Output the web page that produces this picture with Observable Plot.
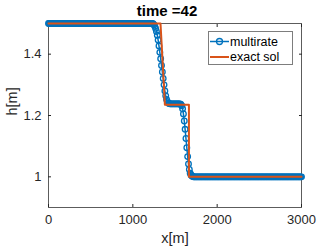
<!DOCTYPE html>
<html><head><meta charset="utf-8">
<script src="https://cdn.jsdelivr.net/npm/d3@7"></script>
<script src="https://cdn.jsdelivr.net/npm/@observablehq/plot@0.6"></script>
<style>body{margin:0;background:#fff;font-family:"Liberation Sans",Arial,sans-serif}</style>
</head><body><div id="chart"></div>
<script>
// multirate numerical solution (x in m, h in m), dx = 10 m
const xNum = [0,10,20,30,40,50,60,70,80,90,100,110,120,130,140,150,160,170,180,190,200,210,220,230,240,250,260,270,280,290,300,310,320,330,340,350,360,370,380,390,400,410,420,430,440,450,460,470,480,490,500,510,520,530,540,550,560,570,580,590,600,610,620,630,640,650,660,670,680,690,700,710,720,730,740,750,760,770,780,790,800,810,820,830,840,850,860,870,880,890,900,910,920,930,940,950,960,970,980,990,1000,1010,1020,1030,1040,1050,1060,1070,1080,1090,1100,1110,1120,1130,1140,1150,1160,1170,1180,1190,1200,1210,1220,1230,1240,1250,1260,1270,1280,1290,1300,1310,1320,1330,1340,1350,1360,1370,1380,1390,1400,1410,1420,1430,1440,1450,1460,1470,1480,1490,1500,1510,1520,1530,1540,1550,1560,1570,1580,1590,1600,1610,1620,1630,1640,1650,1660,1670,1680,1690,1700,1710,1720,1730,1740,1750,1760,1770,1780,1790,1800,1810,1820,1830,1840,1850,1860,1870,1880,1890,1900,1910,1920,1930,1940,1950,1960,1970,1980,1990,2000,2010,2020,2030,2040,2050,2060,2070,2080,2090,2100,2110,2120,2130,2140,2150,2160,2170,2180,2190,2200,2210,2220,2230,2240,2250,2260,2270,2280,2290,2300,2310,2320,2330,2340,2350,2360,2370,2380,2390,2400,2410,2420,2430,2440,2450,2460,2470,2480,2490,2500,2510,2520,2530,2540,2550,2560,2570,2580,2590,2600,2610,2620,2630,2640,2650,2660,2670,2680,2690,2700,2710,2720,2730,2740,2750,2760,2770,2780,2790,2800,2810,2820,2830,2840,2850,2860,2870,2880,2890,2900,2910,2920,2930,2940,2950,2960,2970,2980,2990,3000];
const hNum = [
1.5,1.5,1.5,1.5,1.5,1.5,1.5,1.5,1.5,1.5,
1.5,1.5,1.5,1.5,1.5,1.5,1.5,1.5,1.5,1.5,
1.5,1.5,1.5,1.5,1.5,1.5,1.5,1.5,1.5,1.5,
1.5,1.5,1.5,1.5,1.5,1.5,1.5,1.5,1.5,1.5,
1.5,1.5,1.5,1.5,1.5,1.5,1.5,1.5,1.5,1.5,
1.5,1.5,1.5,1.5,1.5,1.5,1.5,1.5,1.5,1.5,
1.5,1.5,1.5,1.5,1.5,1.5,1.5,1.5,1.5,1.5,
1.5,1.5,1.5,1.5,1.5,1.5,1.5,1.5,1.5,1.5,
1.5,1.5,1.5,1.5,1.5,1.5,1.5,1.5,1.5,1.5,
1.5,1.5,1.5,1.5,1.5,1.5,1.5,1.5,1.5,1.5,
1.5,1.5,1.5,1.5,1.5,1.5,1.5,1.5,1.5,1.5,
1.5,1.5,1.5,1.5,1.5,1.5,1.5,1.5,1.5,1.5,
1.5,1.5,1.5,1.5,1.499,1.496,1.491,1.484,1.474,1.462,
1.446,1.427,1.406,1.385,1.363,1.342,1.321,1.300,1.280,1.264,
1.252,1.245,1.241,1.239,1.238,1.238,1.238,1.238,1.238,1.238,
1.238,1.238,1.238,1.238,1.238,1.238,1.238,1.236,1.232,1.222,
1.205,1.182,1.155,1.125,1.095,1.066,1.042,1.024,1.012,1.006,
1.003,1.001,1.0,1.0,1.0,1.0,1.0,1.0,1.0,1.0,
1.0,1.0,1.0,1.0,1.0,1.0,1.0,1.0,1.0,1.0,
1.0,1.0,1.0,1.0,1.0,1.0,1.0,1.0,1.0,1.0,
1.0,1.0,1.0,1.0,1.0,1.0,1.0,1.0,1.0,1.0,
1.0,1.0,1.0,1.0,1.0,1.0,1.0,1.0,1.0,1.0,
1.0,1.0,1.0,1.0,1.0,1.0,1.0,1.0,1.0,1.0,
1.0,1.0,1.0,1.0,1.0,1.0,1.0,1.0,1.0,1.0,
1.0,1.0,1.0,1.0,1.0,1.0,1.0,1.0,1.0,1.0,
1.0,1.0,1.0,1.0,1.0,1.0,1.0,1.0,1.0,1.0,
1.0,1.0,1.0,1.0,1.0,1.0,1.0,1.0,1.0,1.0,
1.0,1.0,1.0,1.0,1.0,1.0,1.0,1.0,1.0,1.0,
1.0,1.0,1.0,1.0,1.0,1.0,1.0,1.0,1.0,1.0,
1.0,1.0,1.0,1.0,1.0,1.0,1.0,1.0,1.0,1.0,
1.0];
// exact solution
const xExact = [0,1328,1338,1348,1358,1368,1380,1665,1665,3000];
const hExact = [1.5,1.5,1.45,1.40,1.35,1.30,1.235,1.235,1.0,1.0];
const xTicks = [0,1000,2000,3000];
const yTicks = [1,1.2,1.4];
const seriesNames = ["multirate","exact sol"];
const titleText = "time =42";
const xLabel = "x[m]", yLabel = "h[m]";

const blue = "#0072BD", orange = "#D95319", axc = "#262626";
const num = xNum.map((x,i)=>({x, h:hNum[i]}));
const ex = xExact.map((x,i)=>({x, h:hExact[i]}));

const W=332,H=249,mL=48,mR=31,mT=23,mB=42;
const plot = Plot.plot({
  width:W, height:H, marginLeft:mL, marginRight:mR, marginTop:mT, marginBottom:mB,
  style:{fontFamily:"'Liberation Sans', Arial, sans-serif", fontSize:"13px", color:axc, background:"#fff"},
  x:{domain:[0,3000]},
  y:{domain:[0.9,1.5]},
  marks:[
    Plot.frame({stroke:axc, strokeOpacity:0.75}),
    Plot.axisX(xTicks,{anchor:"bottom", tickSize:-3, tickFormat:()=>"", label:null, stroke:axc}),
    Plot.axisX(xTicks,{anchor:"top", tickSize:-3, tickFormat:()=>"", label:null, stroke:axc}),
    Plot.axisY(yTicks,{anchor:"left", tickSize:-3, tickFormat:()=>"", label:null, stroke:axc}),
    Plot.axisY(yTicks,{anchor:"right", tickSize:-3, tickFormat:()=>"", label:null, stroke:axc}),
    Plot.axisX(xTicks,{anchor:"bottom", tickSize:0, tickPadding:7, label:null, fontSize:13, fill:axc, tickFormat:d=>String(d)}),
    Plot.axisY(yTicks,{anchor:"left", tickSize:0, tickPadding:7, label:null, fontSize:13, fill:axc, tickFormat:d=>String(d)}),
    Plot.line(num,{x:"x", y:"h", stroke:blue, strokeWidth:1.5}),
    Plot.dot(num,{x:"x", y:"h", r:2.8, stroke:blue, strokeWidth:1.3, fill:"none"}),
    Plot.line(ex,{x:"x", y:"h", stroke:orange, strokeWidth:2}),
    Plot.text([titleText],{frameAnchor:"top", lineAnchor:"middle", dy:-12, dx:-8, text:d=>d, fontSize:15, fontWeight:"bold", fill:"#000"}),
    Plot.text([xLabel],{frameAnchor:"bottom", lineAnchor:"middle", dy:31, text:d=>d, fontSize:14.5, fill:axc}),
    Plot.text([yLabel],{frameAnchor:"left", dx:-36, rotate:-90, text:d=>d, fontSize:14.5, fill:axc})
  ]
});
document.getElementById("chart").appendChild(plot);

// legend inside axes (top-right)
const svg = d3.select(plot);
const g = svg.append("g").attr("font-family","'Liberation Sans', Arial, sans-serif").attr("font-size",12.5).attr("text-anchor","start");
g.append("rect").attr("x",208.5).attr("y",31.5).attr("width",84).attr("height",33).attr("fill","#fff").attr("stroke","#262626").attr("stroke-opacity",0.6);
const rows = [{name:seriesNames[0], c:blue, marker:true, y:41.5},{name:seriesNames[1], c:orange, marker:false, y:57}];
rows.forEach(r=>{
  g.append("line").attr("x1",210).attr("x2",229).attr("y1",r.y).attr("y2",r.y).attr("stroke",r.c).attr("stroke-width",r.marker?1.5:2);
  if(r.marker) g.append("circle").attr("cx",219.5).attr("cy",r.y).attr("r",3).attr("fill","none").attr("stroke",r.c).attr("stroke-width",1.3);
  g.append("text").attr("x",230).attr("y",r.y).attr("dy","0.35em").attr("text-anchor","start").attr("fill","#000").text(r.name);
});
</script></body></html>
